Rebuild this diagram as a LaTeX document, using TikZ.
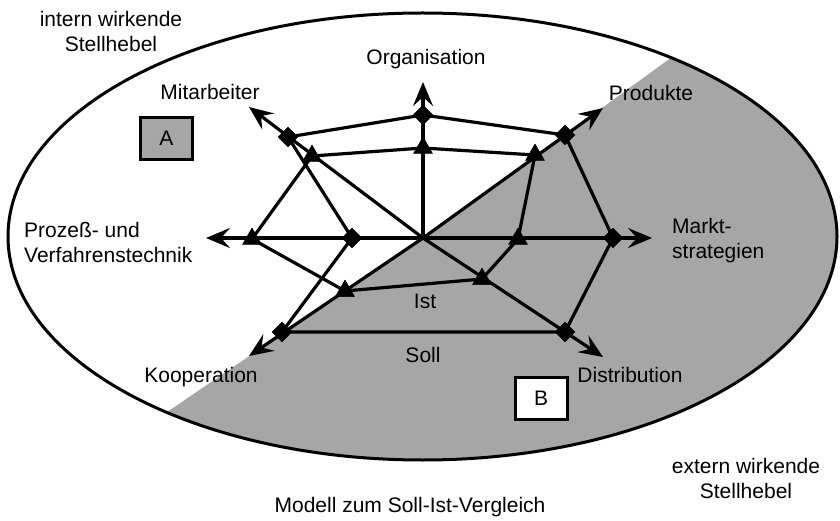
\documentclass[tikz,border=0pt]{standalone}
\usepackage{fontspec}
\setmainfont{Liberation Sans}
\usetikzlibrary{arrows.meta,shapes.geometric}
\begin{document}
\begin{tikzpicture}[x=1pt,y=-1pt,
  lbl/.style={font=\fontsize{21}{25}\selectfont, inner sep=0pt},
  axisline/.style={line width=3.2pt, -{Stealth[length=24pt,width=20pt,inset=9pt]}},
  poly/.style={line width=3.2pt, line join=round},
  dia/.style={diamond, fill=black, inner sep=0pt, minimum size=20pt},
  tri/.style={regular polygon, regular polygon sides=3, fill=black, inner sep=0pt, minimum size=22pt},
  letterbox/.style={draw, line width=3pt, minimum width=52pt, minimum height=42pt, inner sep=0pt, font=\fontsize{21}{25}\selectfont},
  shade/.style={fill=black!35}]
\useasboundingbox (0,0) rectangle (840,521);
\fill[white] (0,0) rectangle (840,521);
% shaded external region
\begin{scope}
  \clip (422.5,236.5) ellipse [x radius=414.5, y radius=223.5];
  \fill[shade] (123,442) -- (423,238) -- (723,20) -- (900,20) -- (900,560) -- (123,560) -- cycle;
\end{scope}
\draw[line width=3pt] (422.5,236.5) ellipse [x radius=414.5, y radius=223.5];

% centre and axis ends
\coordinate (c) at (423,238);
\coordinate (tOrg) at (423,82);
\coordinate (tProd) at (603,108);
\coordinate (tMarkt) at (652,238);
\coordinate (tDist) at (603,357);
\coordinate (tKoop) at (249,356);
\coordinate (tProz) at (206,238);
\coordinate (tMit) at (249,107);

\foreach \t in {tOrg,tProd,tMarkt,tDist,tKoop,tProz,tMit}
  \draw[axisline] (c) -- (\t);

% Soll markers (diamonds)
\node[dia] (sOrg) at (423,115) {};
\node[dia] (sProd) at (565,135) {};
\node[dia] (sMarkt) at (613,238) {};
\node[dia] (sDist) at (565,332) {};
\node[dia] (sKoop) at (282,332) {};
\node[dia] (sProz) at (352,238) {};
\node[dia] (sMit) at (288,137) {};

% Ist markers (triangles)
\node[tri] (iOrg) at (423,148) {};
\node[tri] (iProd) at (535,155) {};
\node[tri] (iMarkt) at (518,239) {};
\node[tri] (iDist) at (482,279) {};
\node[tri] (iKoop) at (345,291) {};
\node[tri] (iProz) at (252,239) {};
\node[tri] (iMit) at (312,156) {};

% polygons
\draw[poly] (sOrg.center) -- (sProd.center) -- (sMarkt.center) -- (sDist.center) -- (sKoop.center) -- (sProz.center) -- (sMit.center) -- (sOrg.center);
\draw[poly] (iOrg.center) -- (iProd.center) -- (iMarkt.center) -- (iDist.center) -- (iKoop.center) -- (iProz.center) -- (iMit.center) -- (iOrg.center);

% redraw markers on top
\foreach \n in {sOrg,sProd,sMarkt,sDist,sKoop,sProz,sMit}
  \fill (\n.north) -- (\n.east) -- (\n.south) -- (\n.west) -- cycle;
\foreach \n in {iOrg,iProd,iMarkt,iDist,iKoop,iProz,iMit}
  \fill (\n.corner 1) -- (\n.corner 2) -- (\n.corner 3) -- cycle;

% labels
\node[lbl] (lOrg) at (426,59) {Organisation};
\node[lbl] (lMit) at (210,92) {Mitarbeiter};
\node[lbl] (lProd) at (651,93) {Produkte};
\node[lbl, anchor=west, align=left] (lProz) at (24,242) {Prozeß- und\\Verfahrenstechnik};
\node[lbl, anchor=west, align=left] (lMarkt) at (672,241) {Markt-\\strategien};
\node[lbl] (lKoop) at (201,377) {Kooperation};
\node[lbl] (lDist) at (630,375) {Distribution};
\node[lbl] (lIst) at (425,301) {Ist};
\node[lbl] (lSoll) at (423,355) {Soll};
\node[lbl, align=center] (lIntern) at (111,31) {intern wirkende\\Stellhebel};
\node[lbl, align=center] (lExtern) at (746,478) {extern wirkende\\Stellhebel};
\node[lbl] (lTitle) at (410,507) {Modell zum Soll-Ist-Vergleich};

% boxes A and B
\node[letterbox, shade] (boxA) at (166.5,138.5) {A};
\node[letterbox, fill=white] (boxB) at (541,398.5) {B};
\end{tikzpicture}
\end{document}
